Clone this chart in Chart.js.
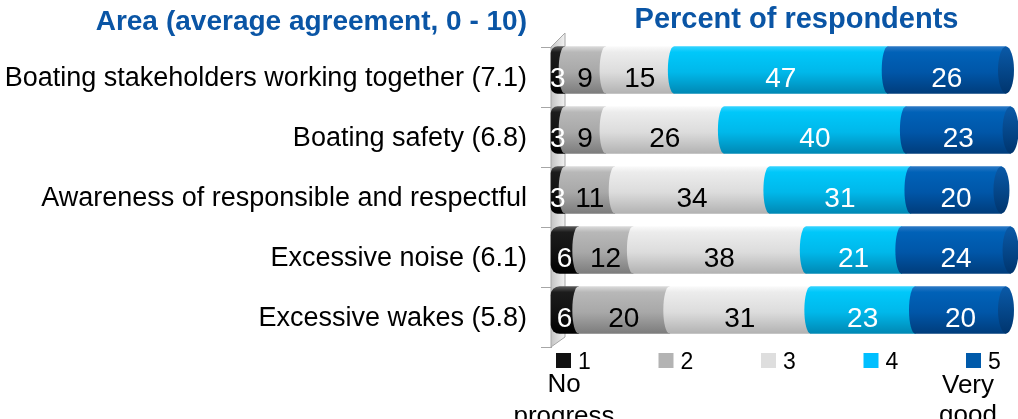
<!DOCTYPE html>
<html>
<head>
<meta charset="utf-8">
<script src="https://cdn.jsdelivr.net/npm/chart.js@4"></script>
<style>
    html, body { margin: 0; padding: 0; background: #fff; }
    #wrap { width: 1018px; height: 419px; position: relative; }
</style>
</head>
<body>
<div id="wrap"><canvas id="surveyChart"></canvas></div>
<script>
const categories = [
    'Boating stakeholders working together (7.1)',
    'Boating safety (6.8)',
    'Awareness of responsible and respectful',
    'Excessive noise (6.1)',
    'Excessive wakes (5.8)'
];
const legendLabels = ['1', '2', '3', '4', '5'];
const score1 = [3, 3, 3, 6, 6];
const score2 = [9, 9, 11, 12, 20];
const score3 = [15, 26, 34, 38, 31];
const score4 = [47, 40, 31, 21, 23];
const score5 = [26, 23, 20, 24, 20];

const leftTitle = 'Area';
const leftSubtitle = '(average agreement, 0 - 10)';
const rightTitle = 'Percent of respondents';
const lowEndText = ['No', 'progress'];
const highEndText = ['Very', 'good'];

const FONT = "'Liberation Sans', Arial, sans-serif";
const BLUE_TEXT = '#0a55a5';
const BAR_H = 47;
const LIFT = 7;

// flat colours for the legend, stops for the cylinder look
const flatColors = ['#111111', '#b3b3b3', '#dedede', '#00bfff', '#005aaa'];
const shades = [
    ['#5a5a5a', '#1c1c1c', '#111111', '#000000'],
    ['#dadada', '#b8b8b8', '#a8a8a8', '#7c7c7c'],
    ['#fafafa', '#ececec', '#dcdcdc', '#b2b2b2'],
    ['#33d3ff', '#00c8fa', '#00b8ea', '#0088b4'],
    ['#2b78c4', '#0062b8', '#0056a8', '#003d7c']
];
const textColors = ['#ffffff', '#000000', '#000000', '#ffffff', '#ffffff'];

function cylinderFill(idx) {
    return function (context) {
        const chart = context.chart;
        if (!chart.chartArea || context.dataIndex === undefined) {
            return flatColors[idx];
        }
        const y = chart.scales.y.getPixelForValue(context.dataIndex);
        const g = chart.ctx.createLinearGradient(0, y - BAR_H / 2, 0, y + BAR_H / 2);
        const s = shades[idx];
        g.addColorStop(0, s[0]);
        g.addColorStop(0.12, s[1]);
        g.addColorStop(0.55, s[2]);
        g.addColorStop(1, s[3]);
        return g;
    };
}

function makeDataset(label, data, idx) {
    const ds = {
        label: label,
        data: data,
        backgroundColor: cylinderFill(idx),
        borderWidth: 0,
        barThickness: BAR_H,
        borderSkipped: false,
        borderRadius: 0
    };
    if (idx === 0) {
        ds.borderRadius = { topLeft: 9, bottomLeft: 9, topRight: 0, bottomRight: 0 };
    }
    return ds;
}

// 3D side wall + lifted bars with rounded joints and end cap
const cylinderPlugin = {
    id: 'cylinder',
    beforeDatasetsDraw(chart) {
        const { ctx, chartArea } = chart;
        const depth = 14;
        ctx.save();
        const g = ctx.createLinearGradient(chartArea.left, 0, chartArea.left + depth, 0);
        g.addColorStop(0, '#c4c4c4');
        g.addColorStop(1, '#f2f2f2');
        ctx.beginPath();
        ctx.moveTo(chartArea.left, chartArea.top);
        ctx.lineTo(chartArea.left + depth, chartArea.top - 14);
        ctx.lineTo(chartArea.left + depth, chartArea.bottom - 10);
        ctx.lineTo(chartArea.left, chartArea.bottom);
        ctx.closePath();
        ctx.fillStyle = g;
        ctx.fill();
        ctx.strokeStyle = '#a6a6a6';
        ctx.lineWidth = 1;
        ctx.stroke();
        ctx.restore();

        ctx.save();
        ctx.translate(0, -LIFT);
    },
    afterDatasetsDraw(chart) {
        const { ctx } = chart;
        const n = chart.data.datasets.length;
        for (let d = 1; d < n; d++) {
            chart.getDatasetMeta(d).data.forEach(function (bar) {
                const h = bar.height;
                ctx.beginPath();
                ctx.ellipse(bar.base, bar.y, 6, h / 2, 0, 0, Math.PI * 2);
                ctx.fillStyle = bar.options.backgroundColor;
                ctx.fill();
            });
        }
        chart.getDatasetMeta(n - 1).data.forEach(function (bar) {
            const h = bar.height;
            const g = ctx.createLinearGradient(0, bar.y - h / 2, 0, bar.y + h / 2);
            g.addColorStop(0, '#0a5aa8');
            g.addColorStop(1, '#00356e');
            ctx.beginPath();
            ctx.ellipse(bar.x, bar.y, 8, h / 2, 0, 0, Math.PI * 2);
            ctx.fillStyle = g;
            ctx.fill();
        });
        ctx.restore();

        // value labels
        ctx.save();
        ctx.font = '28px ' + FONT;
        ctx.textAlign = 'center';
        ctx.textBaseline = 'middle';
        chart.data.datasets.forEach(function (ds, d) {
            chart.getDatasetMeta(d).data.forEach(function (bar, i) {
                ctx.fillStyle = textColors[d];
                ctx.fillText(String(ds.data[i]), (bar.x + bar.base) / 2, bar.y + 2);
            });
        });
        ctx.restore();
    },
    afterDraw(chart) {
        const { ctx, chartArea } = chart;
        ctx.save();
        ctx.textBaseline = 'middle';
        ctx.fillStyle = BLUE_TEXT;

        // left header, right-aligned with category labels
        ctx.font = 'bold 28px ' + FONT;
        ctx.textAlign = 'right';
        const subW = ctx.measureText(leftSubtitle).width;
        ctx.fillText(leftSubtitle, 527, 22);
        ctx.fillText(leftTitle, 527 - subW - 8, 22);

        ctx.font = 'bold 29px ' + FONT;
        ctx.textAlign = 'center';
        ctx.fillText(rightTitle, (chartArea.left + chartArea.right) / 2 + 18, 20);

        // legend
        const step = (chartArea.right - chartArea.left - 45) / 4;
        ctx.font = '23px ' + FONT;
        legendLabels.forEach(function (lab, i) {
            const x = chartArea.left + 5 + i * step;
            ctx.fillStyle = flatColors[i];
            ctx.fillRect(x, 353, 15, 15);
            ctx.fillStyle = '#000';
            ctx.textAlign = 'left';
            ctx.fillText(lab, x + 22, 363);
        });

        ctx.font = '26px ' + FONT;
        ctx.textAlign = 'center';
        ctx.fillStyle = '#000';
        const lowX = chartArea.left + 13;
        const highX = chartArea.left + 5 + 4 * step + 2;
        lowEndText.forEach(function (t, k) {
            ctx.fillText(t, lowX, 385 + k * 32);
        });
        highEndText.forEach(function (t, k) {
            ctx.fillText(t, highX, 386 + k * 30);
        });
        ctx.restore();
    }
};

const ctx = document.getElementById('surveyChart').getContext('2d');

new Chart(ctx, {
    type: 'bar',
    data: {
        labels: categories,
        datasets: [
            makeDataset(legendLabels[0], score1, 0),
            makeDataset(legendLabels[1], score2, 1),
            makeDataset(legendLabels[2], score3, 2),
            makeDataset(legendLabels[3], score4, 3),
            makeDataset(legendLabels[4], score5, 4)
        ]
    },
    options: {
        indexAxis: 'y',
        responsive: true,
        maintainAspectRatio: false,
        animation: false,
        clip: false,
        layout: {
            padding: { top: 47, bottom: 72, right: 12, left: 0 }
        },
        plugins: {
            legend: { display: false },
            tooltip: { enabled: false }
        },
        scales: {
            x: {
                stacked: true,
                display: false,
                min: 0,
                max: 100
            },
            y: {
                stacked: true,
                afterFit(scale) {
                    scale.width = 551;
                },
                border: {
                    display: true,
                    color: '#a6a6a6'
                },
                grid: {
                    drawOnChartArea: false,
                    drawTicks: true,
                    tickLength: 10,
                    color: '#a6a6a6'
                },
                ticks: {
                    color: '#000000',
                    padding: 14,
                    labelOffset: 2,
                    font: {
                        family: FONT,
                        size: 27
                    }
                }
            }
        }
    },
    plugins: [cylinderPlugin]
});
</script>
</body>
</html>
